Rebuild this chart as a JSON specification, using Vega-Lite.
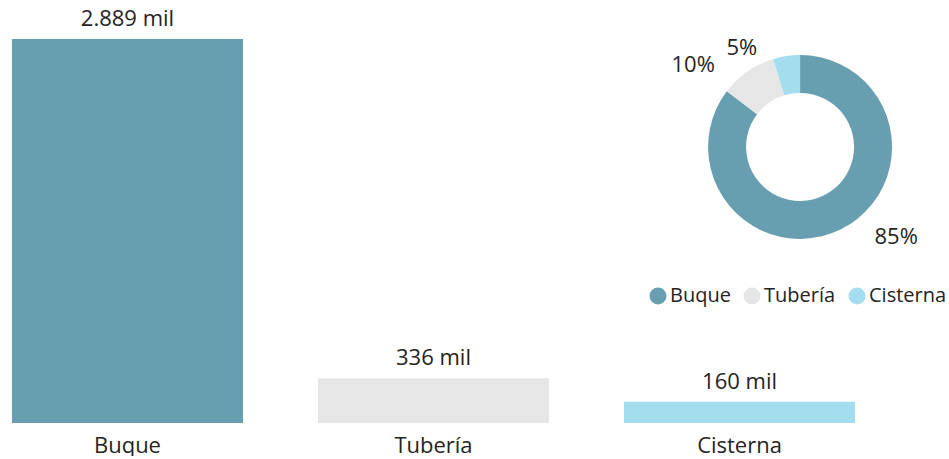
{
  "$schema": "https://vega.github.io/schema/vega-lite/v6.json",
  "padding": {"left": 0, "top": 8, "right": 0, "bottom": 0},
  "background": "white",
  "width": 867,
  "height": 384,
  "config": {"view": {"stroke": null}, "font": "Open Sans"},
  "data": {"values": [
    {"tipo": "Buque", "orden": 1, "valor": 2889, "etiqueta": "2.889 mil", "pct": "85%"},
    {"tipo": "Tubería", "orden": 2, "valor": 336, "etiqueta": "336 mil", "pct": "10%"},
    {"tipo": "Cisterna", "orden": 3, "valor": 160, "etiqueta": "160 mil", "pct": "5%"}
  ]},
  "layer": [
    {
      "mark": {"type": "bar"},
      "encoding": {
        "x": {"field": "tipo", "type": "nominal", "sort": {"field": "orden"},
          "scale": {"domain": ["Buque", "Tubería", "Cisterna"], "paddingInner": 0.245, "paddingOuter": 0.039},
          "axis": {"title": null, "domain": false, "ticks": false, "labelAngle": 0, "labelFontSize": 22, "labelColor": "#252423", "labelPadding": 29, "labelBaseline": "alphabetic", "labelFont": "Open Sans"}},
        "y": {"field": "valor", "type": "quantitative", "scale": {"domain": [0, 2889], "nice": false}, "axis": null},
        "color": {"field": "tipo", "type": "nominal",
          "scale": {"domain": ["Buque", "Tubería", "Cisterna"], "range": ["#689FB0", "#E6E6E6", "#A4DDEE"]},
          "legend": {"orient": "none", "legendX": 648, "legendY": 247, "direction": "horizontal", "title": null, "symbolType": "circle", "symbolSize": 289, "symbolStrokeWidth": 0, "labelFontSize": 20, "labelColor": "#252423", "labelOffset": 2, "columnPadding": 11, "padding": 0}}
      }
    },
    {
      "mark": {"type": "text", "baseline": "alphabetic", "dy": -13, "fontSize": 22, "color": "#252423"},
      "encoding": {
        "x": {"field": "tipo", "type": "nominal", "sort": {"field": "orden"}},
        "y": {"field": "valor", "type": "quantitative"},
        "text": {"field": "etiqueta"}
      }
    },
    {
      "mark": {"type": "arc", "innerRadius": 54, "outerRadius": 92},
      "encoding": {
        "x": {"datum": "Cisterna", "type": "nominal", "bandPosition": 0.762},
        "y": {"datum": 2077, "type": "quantitative"},
        "theta": {"field": "valor", "type": "quantitative", "stack": true},
        "order": {"field": "orden"},
        "color": {"field": "tipo", "type": "nominal"}
      }
    },
    {
      "mark": {"type": "text", "radius": 100, "fontSize": 22, "color": "#252423", "baseline": "middle",
        "align": {"expr": "datum.tipo === 'Buque' ? 'left' : 'right'"},
        "dx": {"expr": "datum.tipo === 'Buque' ? 30 : -28"}},
      "encoding": {
        "x": {"datum": "Cisterna", "type": "nominal", "bandPosition": 0.762},
        "y": {"datum": 2077, "type": "quantitative"},
        "theta": {"field": "valor", "type": "quantitative", "stack": true},
        "order": {"field": "orden"},
        "text": {"field": "pct"}
      }
    }
  ]
}
